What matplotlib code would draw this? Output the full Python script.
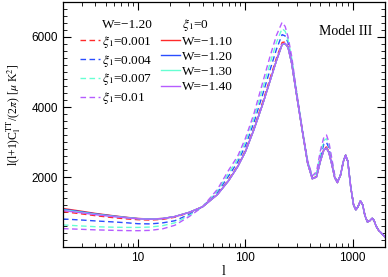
import matplotlib
matplotlib.use("Agg")
import matplotlib.pyplot as plt
from matplotlib.ticker import FixedLocator, LogLocator, NullFormatter, MultipleLocator

ell = [2, 3, 4, 6, 8, 10, 13, 17, 22, 30, 40, 55, 70, 85, 100, 120, 145, 170, 195, 220,
       235, 250, 270, 300, 340, 380, 420, 460, 500, 540, 570, 600, 640, 680, 720, 770,
       820, 860, 900, 960, 1020, 1070, 1120, 1180, 1240, 1300, 1370, 1430, 1520, 1580,
       1650, 1750, 1850, 1950, 2000]

tail = [2450, 1700, 1200, 1060, 1150, 1320, 1200, 900, 720, 740, 820, 760, 600, 470, 400, 320, 280]

# dashed: W=-1.20, varying xi_1
xi_0001 = [1010, 945, 895, 835, 800, 780, 770, 790, 850, 980, 1150, 1515, 1930, 2330, 2758, 3395,
           4142, 4820, 5402, 5844, 5859, 5730, 5270, 4360, 3305, 2408, 1958, 2015, 2480, 2817,
           2858, 2730, 2367, 1988, 1843, 2052, 2452, 2621] + tail
xi_0004 = [800, 770, 745, 715, 690, 665, 660, 690, 750, 930, 1150, 1568, 2035, 2435, 2891, 3553,
           4359, 5065, 5654, 6068, 6030, 5835, 5340, 4395, 3323, 2436, 1986, 2068, 2585, 2947,
           2991, 2835, 2427, 2016, 1854, 2059, 2459, 2625] + tail
xi_0007 = [630, 600, 580, 565, 560, 560, 570, 610, 690, 900, 1150, 1608, 2116, 2516, 2994, 3674,
           4526, 5254, 5848, 6240, 6163, 5916, 5394, 4422, 3336, 2458, 2008, 2108, 2666, 3046,
           3094, 2916, 2472, 2038, 1862, 2064, 2464, 2627] + tail
xi_001 = [525, 505, 490, 475, 468, 466, 475, 520, 620, 870, 1150, 1650, 2200, 2600, 3100, 3800,
          4700, 5450, 6050, 6420, 6300, 6000, 5450, 4450, 3350, 2480, 2030, 2150, 2750, 3150,
          3200, 3000, 2520, 2060, 1870, 2070, 2470, 2630] + tail

# solid: xi_1=0, varying W
w_110 = [1100, 1020, 960, 890, 845, 815, 800, 815, 870, 990, 1150, 1500, 1900, 2300, 2720, 3350,
         4080, 4750, 5330, 5780, 5810, 5700, 5250, 4350, 3300, 2400, 1950, 2000, 2450, 2780,
         2820, 2700, 2350, 1980, 1840, 2050, 2450, 2620] + tail
w_120 = [1080, 1005, 948, 882, 840, 812, 798, 814, 870, 990, 1150, 1500, 1900, 2300, 2720, 3350,
         4080, 4750, 5330, 5785, 5812, 5700, 5250, 4350, 3300, 2400, 1950, 2000, 2450, 2782,
         2822, 2700, 2350, 1980, 1840, 2050, 2450, 2620] + tail
w_130 = [1060, 990, 936, 874, 835, 809, 796, 813, 869, 990, 1150, 1500, 1900, 2300, 2720, 3350,
         4080, 4750, 5330, 5790, 5815, 5700, 5250, 4350, 3300, 2400, 1950, 2000, 2450, 2784,
         2824, 2700, 2350, 1980, 1840, 2050, 2450, 2620] + tail
w_140 = [1040, 975, 924, 866, 830, 806, 794, 812, 868, 990, 1150, 1500, 1900, 2300, 2720, 3350,
         4080, 4750, 5330, 5795, 5818, 5700, 5250, 4350, 3300, 2400, 1950, 2000, 2450, 2786,
         2826, 2700, 2350, 1980, 1840, 2050, 2450, 2620] + tail

colors = ["#ff2a2a", "#2a4dff", "#66ffd2", "#b65cff"]
dashed_labels = [r"$\xi_1$=0.001", r"$\xi_1$=0.004", r"$\xi_1$=0.007", r"$\xi_1$=0.01"]
solid_labels = ["W=\u22121.10", "W=\u22121.20", "W=\u22121.30", "W=\u22121.40"]

plt.rcParams["mathtext.fontset"] = "stix"
serif = "Liberation Serif"
sans = "Liberation Sans"

fig = plt.figure(figsize=(3.88, 2.77), dpi=100)
ax = fig.add_axes([63 / 388, 1 - 247 / 277, 322 / 388, 245 / 277])

dashed_handles = []
for y, c in zip([xi_0001, xi_0004, xi_0007, xi_001], colors):
    h, = ax.plot(ell, y, color=c, lw=1.0, ls=(0, (4, 2.5)))
    dashed_handles.append(h)
solid_handles = []
for y, c in zip([w_110, w_120, w_130, w_140], colors):
    h, = ax.plot(ell, y, color=c, lw=1.0, ls="-")
    solid_handles.append(h)

ax.set_xscale("log")
ax.set_xlim(2, 2000)
ax.set_ylim(0, 7000)
ax.xaxis.set_major_locator(FixedLocator([10, 100, 1000]))
ax.xaxis.set_minor_locator(LogLocator(base=10, subs=range(2, 10), numticks=20))
ax.xaxis.set_minor_formatter(NullFormatter())
ax.set_xticklabels(["10", "100", "1000"])
ax.yaxis.set_major_locator(FixedLocator([2000, 4000, 6000]))
ax.yaxis.set_minor_locator(MultipleLocator(200))
ax.tick_params(which="both", direction="in", top=True, right=True, labelsize=8.5)
ax.tick_params(which="major", length=6, width=0.8)
ax.tick_params(which="minor", length=3, width=0.6)
for lab in ax.get_xticklabels() + ax.get_yticklabels():
    lab.set_fontfamily(sans)
for s in ax.spines.values():
    s.set_linewidth(0.9)

ax.set_xlabel("l", fontfamily=serif, fontsize=10, labelpad=1)
ax.set_ylabel(r"l(l+1)C$_{\rm l}^{\rm TT}$/(2$\pi$) [$\mu$ K$^{2}$]", fontfamily=serif, fontsize=8.5, labelpad=5)
ax.yaxis.set_label_coords(-0.125, 0.54)

ax.text(0.96, 0.878, "Model III", transform=ax.transAxes, ha="right", va="center",
        fontfamily=serif, fontsize=10)

blank = plt.Line2D([], [], color="none")
handles = [blank] + dashed_handles + [blank] + solid_handles
labels = ["W=\u22121.20"] + dashed_labels + [r"$\xi_1$=0"] + solid_labels
leg = ax.legend(handles, labels, ncol=2, loc="upper left", bbox_to_anchor=(0.053, 0.94),
                frameon=False, prop={"family": serif, "size": 9.5}, handlelength=1.5,
                handletextpad=0.15, columnspacing=0.6, labelspacing=0.22, borderpad=0,
                borderaxespad=0)

fig.savefig("out.png", dpi=100)
